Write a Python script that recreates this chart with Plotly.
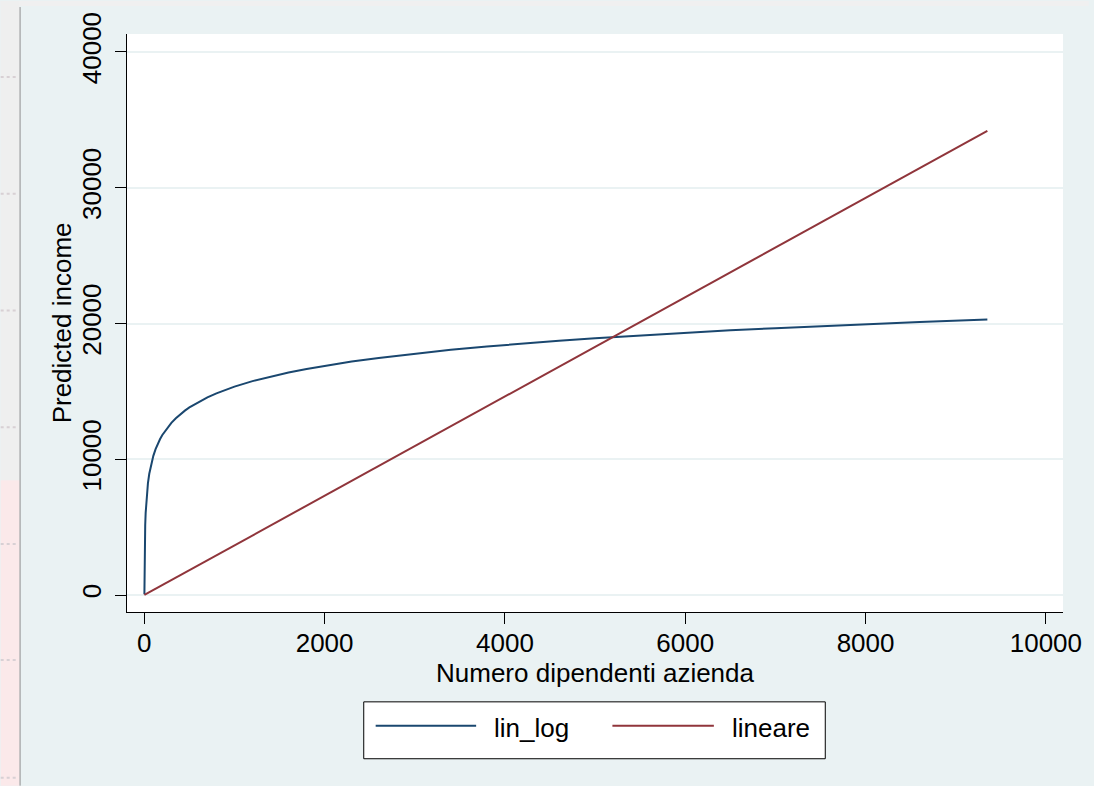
import plotly.graph_objects as go

# Predicted income by firm size (number of employees)
dipendenti = [1, 2, 3, 5, 7, 10, 15, 20, 30, 40, 55, 70, 85, 100, 125, 150, 175,
              200, 250, 300, 350, 400, 450, 500, 600, 700, 800, 900, 1000, 1200,
              1400, 1600, 1800, 2000, 2300, 2600, 3000, 3400, 3800, 4200, 4600,
              5000, 5500, 6000, 6500, 7000, 7500, 8000, 8600, 9351]
lin_log = [60, 1592, 2489, 3620, 4365, 5155, 6053, 6690, 7587, 8224, 8929, 9463,
           9893, 10253, 10747, 11151, 11492, 11788, 12282, 12685, 13026, 13322,
           13583, 13816, 14220, 14561, 14857, 15117, 15351, 15754, 16096, 16391,
           16652, 16885, 17195, 17466, 17783, 18060, 18307, 18528, 18729, 18914,
           19125, 19318, 19495, 19659, 19812, 19955, 20115, 20300]

dipendenti_lin = [1, 9351]
lineare = [4, 34190]

x_ticks = [0, 2000, 4000, 6000, 8000, 10000]
y_ticks = [0, 10000, 20000, 30000, 40000]

NAVY = "#1a476f"
MAROON = "#90353b"
BG = "#eaf2f3"
FONT = "Liberation Sans, Arial, Helvetica, sans-serif"

W, H = 1094, 786
L, R, T, B = 127, 1068, 33, 612


def px(xp):
    return (xp - L) / (R - L)


def py(yp):
    return (B - yp) / (B - T)


fig = go.Figure()
fig.add_trace(go.Scatter(x=dipendenti, y=lin_log, mode="lines", name="lin_log",
                         line=dict(color=NAVY, width=2), showlegend=False))
fig.add_trace(go.Scatter(x=dipendenti_lin, y=lineare, mode="lines", name="lineare",
                         line=dict(color=MAROON, width=2), showlegend=False))

shapes = []
annotations = []

# window chrome around the graph
shapes.append(dict(type="rect", xref="paper", yref="paper", x0=px(0), x1=px(W),
                   y0=py(0), y1=py(5), fillcolor="#f0f0f0", line_width=0, layer="below"))
shapes.append(dict(type="rect", xref="paper", yref="paper", x0=px(0), x1=px(19),
                   y0=py(0), y1=py(480), fillcolor="#efefef", line_width=0, layer="below"))
shapes.append(dict(type="rect", xref="paper", yref="paper", x0=px(0), x1=px(19),
                   y0=py(480), y1=py(H), fillcolor="#fbe9ea", line_width=0, layer="below"))
shapes.append(dict(type="line", xref="paper", yref="paper", x0=px(19.5), x1=px(19.5),
                   y0=py(6), y1=py(H), line=dict(color="#8f8f8f", width=1)))
for yy in [76, 193, 310, 427, 544, 660, 778]:
    shapes.append(dict(type="line", xref="paper", yref="paper", x0=px(0), x1=px(17),
                       y0=py(yy), y1=py(yy), line=dict(color="#d8d0d4", width=2, dash="dot")))

# legend box
shapes.append(dict(type="rect", xref="paper", yref="paper", x0=px(365), x1=px(829),
                   y0=py(702), y1=py(759), fillcolor="white",
                   line=dict(color="black", width=1)))
legend_items = [("lin_log", NAVY, 377, 478, 494), ("lineare", MAROON, 615, 717, 733)]
for label, col, lx0, lx1, tx in legend_items:
    shapes.append(dict(type="line", xref="paper", yref="paper", x0=px(lx0), x1=px(lx1),
                       y0=py(726), y1=py(726), line=dict(color=col, width=2)))
    annotations.append(dict(xref="paper", yref="paper", x=px(tx), y=py(728),
                            xanchor="left", yanchor="middle", showarrow=False,
                            text=label, font=dict(family=FONT, size=26, color="black")))

# y axis title
annotations.append(dict(xref="paper", yref="paper", x=px(62), y=0.5,
                        xanchor="center", yanchor="middle", showarrow=False,
                        textangle=-90, text="Predicted income",
                        font=dict(family=FONT, size=26, color="black")))

fig.update_layout(
    width=W, height=H,
    margin=dict(l=L, r=W - R, t=T, b=H - B),
    paper_bgcolor=BG, plot_bgcolor="white",
    font=dict(family=FONT, size=26, color="black"),
    showlegend=False,
    shapes=shapes, annotations=annotations,
    xaxis=dict(
        range=[-192, 10190], tickvals=x_ticks, ticktext=[str(v) for v in x_ticks],
        showgrid=False, zeroline=False, showline=True, linecolor="black", linewidth=1,
        ticks="outside", ticklen=11, tickwidth=1, tickcolor="black",
        tickfont=dict(size=26), ticklabelstandoff=-3,
        title=dict(text="Numero dipendenti azienda", font=dict(size=26), standoff=0),
    ),
    yaxis=dict(
        range=[-1250, 41323], tickvals=y_ticks, ticktext=[str(v) for v in y_ticks],
        showgrid=True, gridcolor=BG, gridwidth=2, zeroline=False,
        showline=True, linecolor="black", linewidth=1,
        ticks="outside", ticklen=11, tickwidth=1, tickcolor="black",
        tickangle=-90, tickfont=dict(size=26), ticklabelstandoff=4,
    ),
)

fig.write_html("out.html")
